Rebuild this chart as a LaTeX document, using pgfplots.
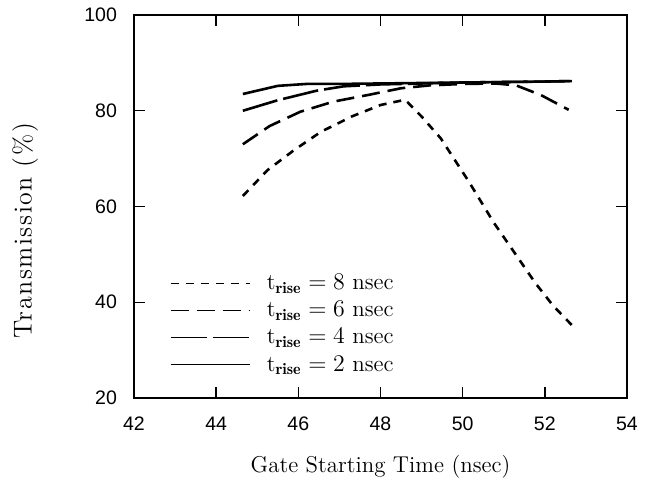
\documentclass[border=0pt]{standalone}
\usepackage{fontspec}
\usepackage{pgfplots}
\pgfplotsset{compat=1.18}
\newfontfamily\ticksans{Liberation Sans}
\newfontfamily\wideserif[LetterSpace=6]{Latin Modern Roman}

\begin{document}
\begin{tikzpicture}
\begin{axis}[
  scale only axis,
  width=246.5bp, height=191.5bp,
  xmin=42, xmax=54, ymin=20, ymax=100,
  xtick={42,44,...,54}, ytick={20,40,...,100},
  tick align=inside,
  major tick length=5.5bp,
  axis line style={line width=0.9bp},
  every tick/.style={black, line width=0.7bp},
  /pgf/number format/assume math mode=true,
  ticklabel style={font=\ticksans\fontsize{9.8}{11}\selectfont},
  xticklabel style={yshift=-6bp},
  yticklabel style={xshift=-5bp},
  xlabel={Gate Starting Time (nsec)},
  ylabel={Transmission (\%)},
  xlabel style={font=\fontsize{11.5}{13}\selectfont, at={(axis description cs:0.5,-0.18)}, anchor=center},
  ylabel style={font=\wideserif\fontsize{13}{15}\selectfont, at={(axis description cs:-0.221,0.436)}, anchor=center},
  legend style={draw=none, fill=none, at={(axis description cs:0.06,0.343)}, anchor=north west,
    font=\fontsize{11.5}{13.5}\selectfont, row sep=1.4bp, nodes={inner sep=1.5bp}},
  legend cell align=left,
  legend image code/.code={\draw[#1, line width=0.6bp] (0bp,0bp) -- (39.5bp,0bp); \path (46bp,0bp);},
]
% t_rise = 8 nsec
\addplot[black, line width=1.3bp, dash pattern=on 4bp off 3.5bp] coordinates {
(44.65,62.2) (45.25,67.6) (45.9,71.8) (46.55,75.6) (47.3,78.8) (48.0,81.2) (48.6,82.3)
(49.0,78.8) (49.47,74.2) (50.15,65.2) (50.76,56.6) (51.29,50.0) (51.77,44.0) (52.2,39.3) (52.66,35.2)};
% t_rise = 6 nsec
\addplot[black, line width=1.3bp, dash pattern=on 9bp off 4bp] coordinates {
(44.65,73.0) (45.3,76.8) (46.05,79.8) (46.85,81.9) (47.7,83.3) (48.5,84.7) (49.2,85.3)
(50.0,85.6) (50.8,85.7) (51.3,85.3) (51.9,83.3) (52.58,80.2)};
% t_rise = 4 nsec
\addplot[black, line width=1.3bp, dash pattern=on 18bp off 3bp] coordinates {
(44.65,80.0) (45.5,82.2) (46.45,84.2) (47.1,85.1) (48.0,85.5) (49.0,85.7) (50.0,85.9)
(51.0,86.0) (52.0,86.1) (52.65,86.2)};
% t_rise = 2 nsec
\addplot[black, line width=1.3bp] coordinates {
(44.65,83.5) (45.5,85.2) (46.2,85.6) (47.0,85.6) (48.0,85.7) (49.0,85.8) (50.0,85.9)
(51.0,86.0) (52.0,86.1) (52.66,86.2)};
\legend{$\mathrm{t}_{\mathbf{rise}}=8$ nsec, $\mathrm{t}_{\mathbf{rise}}=6$ nsec,
  $\mathrm{t}_{\mathbf{rise}}=4$ nsec, $\mathrm{t}_{\mathbf{rise}}=2$ nsec}
\end{axis}
\path ([xshift=-67bp,yshift=-41.5bp]current axis.south west) rectangle ([xshift=257bp,yshift=199bp]current axis.south west);
\end{tikzpicture}
\end{document}
